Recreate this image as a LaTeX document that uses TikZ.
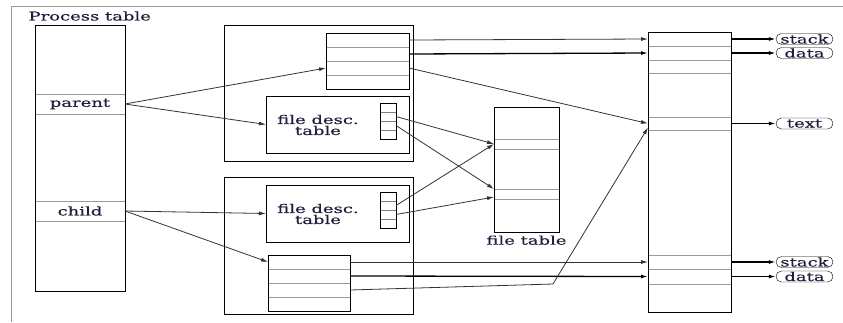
\documentclass[tikz,border=0pt]{standalone}
\usepackage{fontspec}
\setmainfont[FakeStretch=1.5, FakeBold=0.4]{DejaVu Serif}
\usepackage{tikz}
\usetikzlibrary{positioning, shapes.misc, arrows.meta, calc}

\definecolor{ink}{RGB}{30,30,60}

\begin{document}
\begin{tikzpicture}[
  x=1pt, y=-1pt,
  font=\fontsize{12}{11}\selectfont,
  >={Latex[length=7pt,width=4pt]},
  frame/.style={draw=black!40, line width=0.9pt},
  box/.style={draw, line width=0.7pt, inner sep=0pt, outer sep=0pt},
  row/.style={draw=black!40, minimum width=83pt, minimum height=14pt, inner sep=0pt, outer sep=0pt, text=ink},
  srow/.style={draw=black!50, minimum width=16pt, minimum height=9pt, inner sep=0pt, outer sep=0pt},
  seg/.style={draw, rounded rectangle, minimum width=57pt, minimum height=11pt, inner sep=0pt, text=ink},
  txt/.style={align=center, text=ink},
  link/.style={->, black!80, line width=0.8pt},
  heavy/.style={->, black, line width=1.3pt}
]
  \useasboundingbox (0,0) rectangle (843,322);
  \draw[frame] (11,322) -- (11,6) -- (843,6);

  % process table
  \node[anchor=west, txt] (ptlabel) at (25,16) {Process table};
  \node[row, minimum width=90pt, minimum height=20pt] (parent) at (80,104) {parent};
  \node[row, minimum width=90pt, minimum height=20pt] (child) at (80,211) {child};
  \node[box, minimum width=90pt, minimum height=266pt] (proc) at (80,158) {};

  % parent process
  \node[box, minimum width=189pt, minimum height=136pt] (pbox) at (318.5,93) {};
  \node[row] (ut1) at (367.5,40) {};
  \node[row, below=0pt of ut1] (ut2) {};
  \node[row, below=0pt of ut2] (ut3) {};
  \node[row, below=0pt of ut3] (ut4) {};
  \draw[line width=0.7pt] (ut1.north west) rectangle (ut4.south east);

  \node[box, minimum width=143pt, minimum height=57pt] (ufd) at (337.5,124.5) {};
  \node[txt] (ufdtxt) at (318,125) {file desc.\\table};
  \node[srow] (uf1) at (388,107.5) {};
  \node[srow, below=0pt of uf1] (uf2) {};
  \node[srow, below=0pt of uf2] (uf3) {};
  \node[srow, below=0pt of uf3] (uf4) {};
  \draw[line width=0.7pt] (uf1.north west) rectangle (uf4.south east);

  % child process
  \node[box, minimum width=189pt, minimum height=137pt] (cbox) at (318.5,245.5) {};
  \node[box, minimum width=143pt, minimum height=57pt] (lfd) at (337.5,213.5) {};
  \node[txt] (lfdtxt) at (318,214) {file desc.\\table};
  \node[srow] (lf1) at (388,196.5) {};
  \node[srow, below=0pt of lf1] (lf2) {};
  \node[srow, below=0pt of lf2] (lf3) {};
  \node[srow, below=0pt of lf3] (lf4) {};
  \draw[line width=0.7pt] (lf1.north west) rectangle (lf4.south east);

  \node[row, minimum width=82pt] (lt1) at (309,262) {};
  \node[row, minimum width=82pt, below=0pt of lt1] (lt2) {};
  \node[row, minimum width=82pt, below=0pt of lt2] (lt3) {};
  \node[row, minimum width=82pt, below=0pt of lt3] (lt4) {};
  \draw[line width=0.7pt] (lt1.north west) rectangle (lt4.south east);

  % file table
  \node[row, minimum width=65pt, minimum height=10pt] (ft1) at (526.5,144) {};
  \node[row, minimum width=65pt, minimum height=10pt] (ft2) at (526.5,194) {};
  \node[box, minimum width=65pt, minimum height=125pt] (ftab) at (526.5,169.5) {};
  \node[txt, below=0pt of ftab] (ftlabel) {file table};

  % memory
  \node[row] (m1) at (689.5,39) {};
  \node[row, below=0pt of m1] (m2) {};
  \node[row, minimum height=13pt, below=0pt of m2] (m3) {};
  \node[row, minimum height=13pt] (m4) at (689.5,123.5) {};
  \node[row] (m5) at (689.5,262) {};
  \node[row, minimum height=15pt, below=0pt of m5] (m6) {};
  \node[box, minimum width=83pt, minimum height=280pt] (mem) at (689.5,172) {};

  \node[seg] (stack1) at (804.5,39) {stack};
  \node[seg] (data1) at (804.5,53) {data};
  \node[seg] (text1) at (804.5,123.5) {text};
  \node[seg] (stack2) at (804.5,262) {stack};
  \node[seg] (data2) at (804.5,276.5) {data};

  \draw[heavy] (m1.east) -- (stack1.west);
  \draw[heavy] (m2.east) -- (data1.west);
  \draw[heavy] (m4.east) -- (text1.west);
  \draw[heavy] (m5.east) -- (stack2.west);
  \draw[heavy] (m6.east) -- (data2.west);

  % process table entries
  \draw[link] (parent.east) -- (ut3.west);
  \draw[link] (parent.east) -- (ufd.west);
  \draw[link] (child.east) -- (lfd.west);
  \draw[link] (child.east) -- (lt1.west);

  % regions
  \draw[link] (ut1.east) -- (m1.west);
  \draw[heavy] (ut2.east) -- (m2.west);
  \draw[link] (ut3.east) -- (m4.west);
  \draw[link] (lt1.east) -- (m5.west);
  \draw[heavy] (lt2.east) -- (m6.west);
  \coordinate (bend) at (553,284);
  \draw[link] (lt3.east) -- (bend) -- ($(m4.west)+(0,4)$);

  % open files
  \draw[link] (uf2.east) -- (ft1.west);
  \draw[link] (uf3.east) -- (ft2.north west);
  \draw[link] (lf2.east) -- (ft1.west);
  \draw[link] (lf3.east) -- ($(ft2.west)+(0,3)$);
\end{tikzpicture}
\end{document}
